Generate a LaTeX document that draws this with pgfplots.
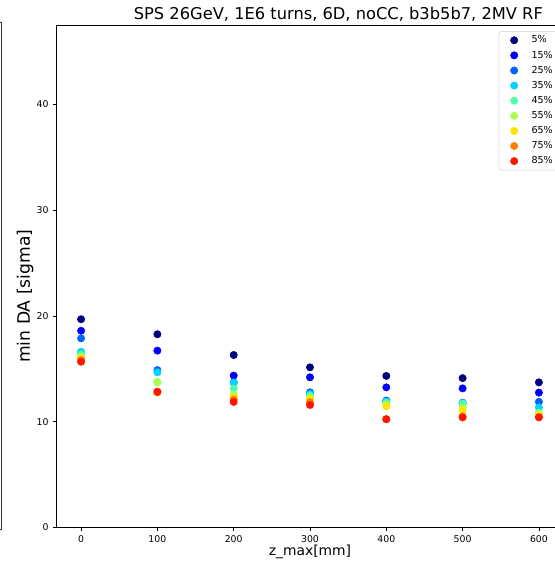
\documentclass[border=0pt]{standalone}
\usepackage{pgfplots}
\pgfplotsset{compat=1.18}
\usepackage{pgfplotstable}
\usepackage{fontspec}
\setmainfont{DejaVu Sans}
\definecolor{c1}{rgb}{0,0,0.5}
\definecolor{c2}{rgb}{0,0,1}
\definecolor{c3}{rgb}{0,0.39,1}
\definecolor{c4}{rgb}{0,0.83,1}
\definecolor{c5}{rgb}{0.30,1,0.66}
\definecolor{c6}{rgb}{0.66,1,0.30}
\definecolor{c7}{rgb}{1,0.90,0}
\definecolor{c8}{rgb}{1,0.49,0}
\definecolor{c9}{rgb}{1,0.08,0}
\definecolor{legframe}{rgb}{0.8,0.8,0.8}
\pgfplotstableread{
x   p5    p15   p25   p35   p45   p55   p65   p75   p85
0   19.69 18.60 17.88 16.62 16.37 16.15 16.00 15.85 15.67
100 18.27 16.72 14.89 14.67 13.75 13.72 12.75 12.78 12.84
200 16.31 14.36 13.72 13.68 13.13 12.52 12.30 12.09 11.87
300 15.14 14.20 12.78 12.62 12.48 12.25 12.15 11.84 11.58
400 14.33 13.25 12.00 11.90 11.80 11.60 11.47 10.25 10.23
500 14.12 13.15 11.80 11.74 11.72 11.30 11.08 10.50 10.41
600 13.72 12.75 11.88 11.35 10.85 10.80 10.60 10.45 10.41
}\datatable
\begin{document}
\begin{tikzpicture}
\useasboundingbox (0,0) rectangle (416.25pt,421.5pt);
\draw[line width=0.6pt,black!80] (0,404.55pt) -- (1.35pt,404.55pt) -- (1.35pt,24.75pt) -- (0,24.75pt);
\begin{axis}[
  scale only axis,
  width=380pt, height=376.2pt,
  at={(42.5pt,25.95pt)}, anchor=south west,
  xmin=-32, xmax=632, ymin=0, ymax=47.45,
  xtick={0,100,...,600}, ytick={0,10,20,30,40},
  tick align=outside, xtick pos=left, ytick pos=left,
  major tick length=2.6pt,
  axis line style={line width=0.6pt},
  every tick/.style={line width=0.6pt, black},
  /pgf/number format/assume math mode=true,
  tick label style={font=\fontsize{7}{8}\selectfont},
  xlabel={z\_max[mm]},
  ylabel={min DA [sigma]},
  every axis x label/.style={at={(axis description cs:0.5,0)}, anchor=center, yshift=-18.5pt, font=\fontsize{10.4}{12}\selectfont},
  every axis y label/.style={at={(axis description cs:-0.0624,0.461)}, anchor=center, rotate=90, font=\fontsize{12.9}{14}\selectfont},
  title={SPS 26GeV, 1E6 turns, 6D, noCC, b3b5b7, 2MV RF},
  every axis title/.style={at={(axis description cs:0.556,1)}, anchor=base, yshift=4.6pt, font=\fontsize{12.2}{14}\selectfont},
  legend cell align=left,
  legend style={at={(rel axis cs:1,1)}, anchor=north east, xshift=-3.9pt, yshift=-3.9pt,
    draw=legframe, rounded corners=2pt, fill=white,
    font=\fontsize{7.2}{8}\selectfont, inner sep=3.75pt,
    nodes={inner sep=0pt, text height=5pt, text depth=1pt},
    row sep=5.33pt, column sep=10.25pt},
  legend image code/.code={\path (-7.5pt,0pt); \draw[#1] plot coordinates {(0pt,0pt)};},
]
\addplot[only marks, mark=*, mark size=2.75pt, color=c1] table[x=x,y=p5]{\datatable};
\addlegendentry{5\%}
\addplot[only marks, mark=*, mark size=2.75pt, color=c2] table[x=x,y=p15]{\datatable};
\addlegendentry{15\%}
\addplot[only marks, mark=*, mark size=2.75pt, color=c3] table[x=x,y=p25]{\datatable};
\addlegendentry{25\%}
\addplot[only marks, mark=*, mark size=2.75pt, color=c4] table[x=x,y=p35]{\datatable};
\addlegendentry{35\%}
\addplot[only marks, mark=*, mark size=2.75pt, color=c5] table[x=x,y=p45]{\datatable};
\addlegendentry{45\%}
\addplot[only marks, mark=*, mark size=2.75pt, color=c6] table[x=x,y=p55]{\datatable};
\addlegendentry{55\%}
\addplot[only marks, mark=*, mark size=2.75pt, color=c7] table[x=x,y=p65]{\datatable};
\addlegendentry{65\%}
\addplot[only marks, mark=*, mark size=2.75pt, color=c8] table[x=x,y=p75]{\datatable};
\addlegendentry{75\%}
\addplot[only marks, mark=*, mark size=2.75pt, color=c9] table[x=x,y=p85]{\datatable};
\addlegendentry{85\%}
\end{axis}
\end{tikzpicture}
\end{document}
